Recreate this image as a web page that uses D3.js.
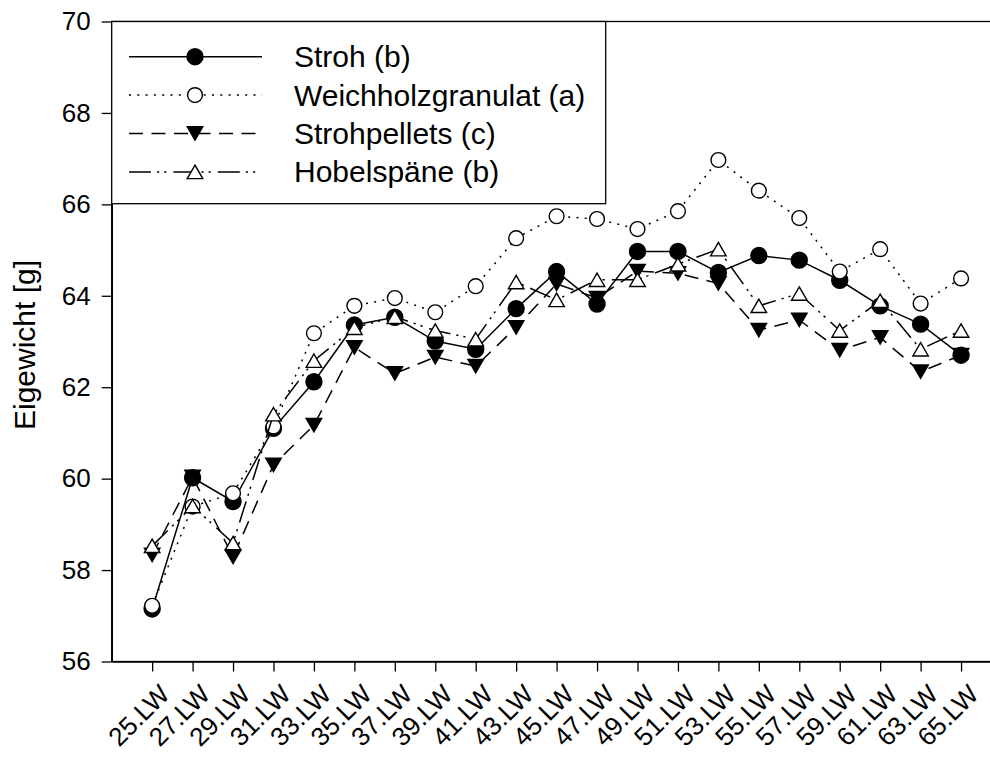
<!DOCTYPE html>
<html>
<head>
<meta charset="utf-8">
<script src="https://cdn.jsdelivr.net/npm/d3@7"></script>
<style>
  html, body { margin: 0; padding: 0; background: #fff; }
  svg { display: block; font-family: "Liberation Sans", Arial, sans-serif; }
</style>
</head>
<body>
<svg id="chart" width="990" height="758"></svg>
<script>
const categories = ["25.LW","27.LW","29.LW","31.LW","33.LW","35.LW","37.LW","39.LW","41.LW","43.LW","45.LW","47.LW","49.LW","51.LW","53.LW","55.LW","57.LW","59.LW","61.LW","63.LW","65.LW"];
const stroh =        [57.15,60.02,59.50,61.10,62.12,63.36,63.53,63.01,62.83,63.72,64.53,63.82,64.97,64.97,64.51,64.88,64.78,64.34,63.78,63.38,62.70];
const weichholz =    [57.22,59.39,59.68,61.14,63.18,63.78,63.95,63.64,64.21,65.26,65.74,65.68,65.46,65.85,66.97,66.30,65.70,64.53,65.02,63.83,64.38];
const strohpellets = [58.33,60.04,58.29,60.30,61.17,62.87,62.30,62.66,62.46,63.31,64.26,63.95,64.54,64.49,64.27,63.25,63.47,62.81,63.09,62.34,62.70];
const hobelspaene =  [58.53,59.40,58.59,61.41,62.58,63.30,63.54,63.24,63.05,64.30,63.91,64.35,64.35,64.69,65.02,63.78,64.05,63.24,63.89,62.83,63.24];
const seriesNames = ["Stroh (b)","Weichholzgranulat (a)","Strohpellets (c)","Hobelspäne (b)"];
const yTicks = [56,58,60,62,64,66,68,70];
const yLabel = "Eigewicht [g]";

const L = 111.7, R = 1001.5, T = 21.5, B = 661.5;
const svg = d3.select("#chart");

const x = d3.scalePoint().domain(categories).range([L, R]).padding(1);
const y = d3.scaleLinear().domain([56, 70]).range([B, T]);

const series = [
  {name: seriesNames[0], values: stroh, dash: null, symbol: "circle", fill: "#000"},
  {name: seriesNames[1], values: weichholz, dash: "2 6.3", symbol: "circle", fill: "#fff"},
  {name: seriesNames[2], values: strohpellets, dash: "14 8.5", symbol: "down", fill: "#000"},
  {name: seriesNames[3], values: hobelspaene, dash: "22 6 2.2 5 2.2 7", symbol: "up", fill: "#fff"}
];

function drawSymbol(g, s, cx, cy) {
  if (s.symbol === "circle") {
    g.append("circle").attr("cx", cx).attr("cy", cy)
      .attr("r", s.fill === "#000" ? 8 : 7.4)
      .attr("fill", s.fill).attr("stroke", "#000").attr("stroke-width", 1.4);
  } else {
    const w = 15.5, h = 13.4;
    let pts;
    if (s.symbol === "up") pts = [[cx, cy - h/2],[cx + w/2, cy + h/2],[cx - w/2, cy + h/2]];
    else pts = [[cx - w/2, cy - h/2],[cx + w/2, cy - h/2],[cx, cy + h/2]];
    g.append("polygon").attr("points", pts.map(p => p.join(",")).join(" "))
      .attr("fill", s.fill).attr("stroke", "#000").attr("stroke-width", 1.4)
      .attr("stroke-linejoin", "miter");
  }
}

// frame (top + right)
svg.append("rect").attr("x", L).attr("y", T).attr("width", R - L).attr("height", B - T)
  .attr("fill", "none").attr("stroke", "#000").attr("stroke-width", 1.3);

// data
const line = d3.line().x((d, i) => x(categories[i])).y(d => y(d));
series.forEach(s => {
  const g = svg.append("g");
  g.append("path").datum(s.values).attr("d", line)
    .attr("fill", "none").attr("stroke", "#000").attr("stroke-width", 1.5)
    .attr("stroke-dasharray", s.dash);
  s.values.forEach((v, i) => drawSymbol(g, s, x(categories[i]), y(v)));
});

// y axis
const yAxis = svg.append("g").attr("transform", `translate(${L},0)`)
  .call(d3.axisLeft(y).tickValues(yTicks).tickFormat(d3.format("d")).tickSize(10).tickPadding(11).tickSizeOuter(0));
yAxis.select(".domain").attr("stroke-width", 1.6);
yAxis.selectAll(".tick line").attr("stroke-width", 1.3);
yAxis.selectAll("text").attr("font-size", 26).attr("font-family", "Liberation Sans, Arial, sans-serif").attr("fill", "#000");

// x axis
const xAxis = svg.append("g").attr("transform", `translate(0,${B})`)
  .call(d3.axisBottom(x).tickSize(10).tickSizeOuter(0));
xAxis.select(".domain").attr("stroke-width", 1.6);
xAxis.selectAll(".tick line").attr("stroke-width", 1.3);
xAxis.selectAll("text")
  .attr("font-size", 26).attr("font-family", "Liberation Sans, Arial, sans-serif").attr("fill", "#000")
  .attr("text-anchor", "end")
  .attr("y", 0).attr("dy", "0.35em")
  .attr("transform", "translate(12,28) rotate(-45)");

// y label
svg.append("text").attr("transform", `translate(34.5,345) rotate(-90)`)
  .attr("text-anchor", "middle").attr("font-size", 30).text(yLabel);

// legend
const lg = svg.append("g");
lg.append("rect").attr("x", L).attr("y", T).attr("width", 605.7 - L).attr("height", 203.7 - T)
  .attr("fill", "#fff").attr("stroke", "#000").attr("stroke-width", 1.3);
series.forEach((s, i) => {
  const cy = 56.7 + i * 38.4;
  lg.append("line").attr("x1", 129).attr("x2", 262).attr("y1", cy).attr("y2", cy)
    .attr("stroke", "#000").attr("stroke-width", 1.5).attr("stroke-dasharray", s.dash);
  drawSymbol(lg, s, 195, cy);
  lg.append("text").attr("x", 294).attr("y", cy + 10.5).attr("font-size", 30).text(s.name);
});
</script>
</body>
</html>
